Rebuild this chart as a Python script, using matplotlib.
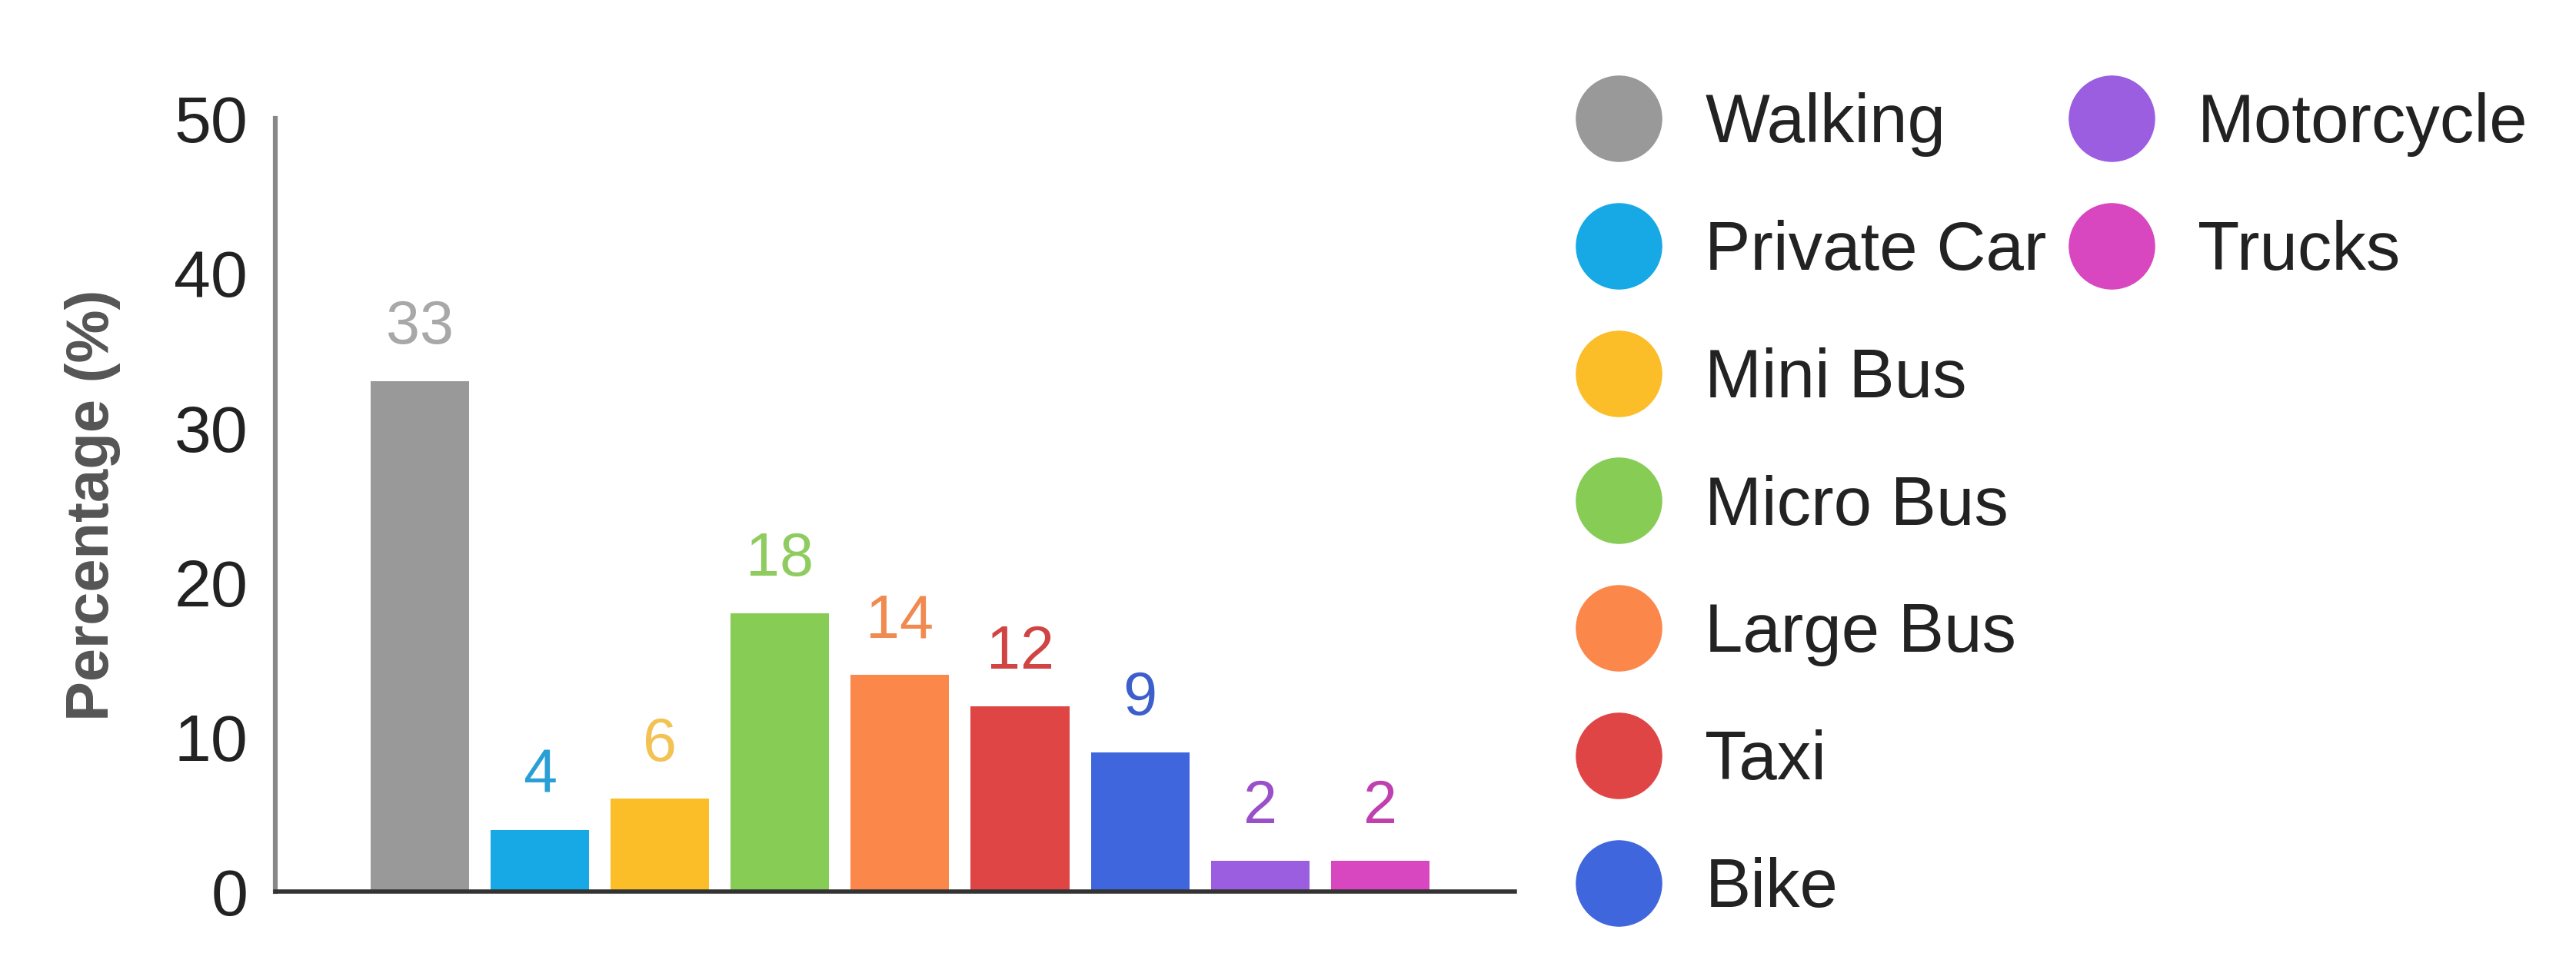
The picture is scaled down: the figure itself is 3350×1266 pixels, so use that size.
import matplotlib.pyplot as plt
from matplotlib.lines import Line2D

plt.rcParams['font.family'] = ['Liberation Sans', 'DejaVu Sans']

# data
modes = ['Walking', 'Private Car', 'Mini Bus', 'Micro Bus', 'Large Bus',
         'Taxi', 'Bike', 'Motorcycle', 'Trucks']
shares = [33, 4, 6, 18, 14, 12, 9, 2, 2]
bar_colors = ['#999999', '#16a9e6', '#fbbd28', '#86cc55', '#fb874b',
              '#e04545', '#3f66dd', '#9b5ee0', '#d846c0']
label_colors = ['#a8a8a8', '#2a9fd6', '#f2c253', '#8fcc60', '#f08a50',
                '#d04444', '#3c5fcc', '#9a50c8', '#c040b0']
yticks = [0, 10, 20, 30, 40, 50]

fig = plt.figure(figsize=(33.5, 12.66), dpi=100)
ax = fig.add_axes([0.107, 0.0837, 0.481, 0.7945])

x = list(range(len(modes)))
bars = ax.bar(x, shares, width=0.82, color=bar_colors)

for xi, v, c in zip(x, shares, label_colors):
    ax.annotate(str(v), (xi, v), xytext=(0, 23), textcoords='offset points',
                ha='center', va='bottom', fontsize=57, color=c)

ax.set_xlim(-1.2, 9.12)
ax.set_ylim(0, 50)
ax.set_yticks(yticks)
ax.set_xticks([])
ax.tick_params(axis='y', length=0, pad=26, labelsize=62, labelcolor='#222222')
ax.set_ylabel('Percentage (%)', fontsize=56, fontweight='bold', color='#555555',
              labelpad=50)

for s in ['top', 'right']:
    ax.spines[s].set_visible(False)
ax.spines['left'].set_color('#888888')
ax.spines['left'].set_linewidth(4.5)
ax.spines['bottom'].set_color('#333333')
ax.spines['bottom'].set_linewidth(4)

handles = [Line2D([], [], marker='o', linestyle='none', markersize=80,
                  markerfacecolor=c, markeredgecolor=c) for c in bar_colors]

leg_kw = dict(frameon=False, fontsize=64, loc='upper left', borderpad=0,
              borderaxespad=0, handlelength=1.23, handletextpad=0.65,
              labelspacing=0.92, labelcolor='#222222')
leg1 = fig.legend(handles[:7], modes[:7], bbox_to_anchor=(0.612, 0.905), **leg_kw)
leg2 = fig.legend(handles[7:], modes[7:], bbox_to_anchor=(0.8033, 0.905), **leg_kw)

fig.savefig('out.png', dpi=100)
